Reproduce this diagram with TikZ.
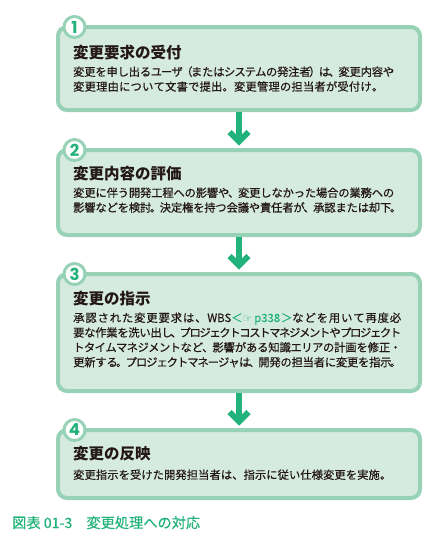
\documentclass[tikz,border=0pt]{standalone}
\usepackage{fontspec}
\setmainfont{Noto Sans CJK JP}
\newfontfamily\bodyfont{Noto Sans CJK JP}[FakeBold=0.5]
\newfontfamily\numfont{Poppins}
\newfontfamily\symfont{DejaVu Sans}
\usetikzlibrary{calc}
\definecolor{boxfill}{HTML}{D6EBDF}
\definecolor{boxline}{HTML}{97D2B7}
\definecolor{accent}{HTML}{22B27B}
\definecolor{ink}{HTML}{231815}
% inter-character glue for justified Japanese lines
\XeTeXinterchartokenstate=1
\newXeTeXintercharclass\jJ
\newXeTeXintercharclass\jK
\newXeTeXintercharclass\jP
\newcount\jcnt
\newcommand\setcls[3]{\jcnt=#1\relax\loop\ifnum\jcnt<#2\relax\XeTeXcharclass\jcnt=#3\relax\advance\jcnt by 1\repeat}
\setcls{"3000}{"3040}{\jP}
\setcls{"3040}{"30A0}{\jJ}
\setcls{"30A0}{"3100}{\jK}
\setcls{"4E00}{"A000}{\jJ}
\setcls{"FF00}{"FF66}{\jP}
\XeTeXinterchartoks\jJ\jJ={\hskip0pt plus 1fil minus 0.3pt}
\XeTeXinterchartoks\jJ\jK={\hskip0pt plus 1fil minus 0.8pt}
\XeTeXinterchartoks\jK\jJ={\hskip0pt plus 1fil minus 0.8pt}
\XeTeXinterchartoks\jK\jK={\hskip0pt plus 1fil minus 1.5pt}
\XeTeXinterchartoks\jP\jJ={\hskip0pt plus 1fil minus 2.5pt}
\XeTeXinterchartoks\jJ\jP={\hskip0pt plus 1fil minus 2.5pt}
\XeTeXinterchartoks\jP\jK={\hskip0pt plus 1fil minus 2.5pt}
\XeTeXinterchartoks\jK\jP={\hskip0pt plus 1fil minus 2.5pt}
\XeTeXinterchartoks\jP\jP={\hskip0pt plus 1fil minus 2.5pt}
\XeTeXinterchartoks 0 \jJ={\hskip0pt plus 1fil minus 0.5pt}
\XeTeXinterchartoks\jJ 0 ={\hskip0pt plus 1fil minus 0.5pt}
\XeTeXinterchartoks\jP 0 ={\hskip0pt plus 1fil minus 0.5pt}
\XeTeXinterchartoks 0 \jP={\hskip0pt plus 1fil minus 0.5pt}
\newcommand\jline[2]{\hbox to #1{#2}}
\newcommand\lines[1]{\vtop{\baselineskip=14.8pt\lineskiplimit=-20pt #1}}
\tikzset{
  box/.style={draw=boxline, line width=4pt, fill=boxfill, rounded corners=9pt, inner sep=0pt},
  numc/.style={circle, draw=boxline, line width=3pt, fill=white, minimum size=21pt, inner sep=0pt,
    font=\numfont\bfseries\fontsize{16.5}{16.5}\selectfont, text=accent},
  ttl/.style={anchor=base west, inner sep=0pt, font=\bfseries\fontsize{15.5}{15.5}\selectfont, text=ink},
  body/.style={anchor=base west, inner sep=0pt, font=\bodyfont\fontsize{11.3}{14.8}\selectfont, text=ink},
  flow/.style={draw=accent, line width=6pt},
  chev/.style={draw=accent, line width=6pt, line join=miter},
  captxt/.style={anchor=base west, inner sep=0pt, font=\bodyfont\fontsize{14.2}{14.2}\selectfont, text=accent},
}
\begin{document}
\begin{tikzpicture}[x=1pt,y=-1pt]
\useasboundingbox (0,0) rectangle (434,546);
% boxes
\node[box, minimum width=362pt, minimum height=83pt] (b1) at (239,68.5) {};
\node[box, minimum width=362pt, minimum height=85pt] (b2) at (239,192.5) {};
\node[box, minimum width=362pt, minimum height=117pt] (b3) at (239,332.5) {};
\node[box, minimum width=362pt, minimum height=68pt] (b4) at (239,464) {};
% numbers
\node[numc] (n1) at ($(b1.north west)+(18.5,2)$) {1};
\node[numc] (n2) at ($(b2.north west)+(18.5,2)$) {2};
\node[numc] (n3) at ($(b3.north west)+(18.5,2)$) {3};
\node[numc] (n4) at ($(b4.north west)+(18.5,2)$) {4};
% titles
\node[ttl] (t1) at (73,58) {変更要求の受付};
\node[ttl] (t2) at (73,179) {変更内容の評価};
\node[ttl] (t3) at (73,304) {変更の指示};
\node[ttl] (t4) at (73,459) {変更の反映};
% bodies
\node[body] (d1) at (73,76) {\lines{%
  \jline{321pt}{変更を申し出るユーザ（またはシステムの発注者）は、変更内容や}%
  \jline{310pt}{変更理由について文書で提出。変更管理の担当者が受付け。}}};
\node[body] (d2) at (73,197) {\lines{%
  \jline{321pt}{変更に伴う開発工程への影響や、変更しなかった場合の業務への}%
  \jline{328pt}{影響などを検討。決定権を持つ会議や責任者が、承認または却下。}}};
\node[body] (d3) at (73,322) {\lines{%
  \jline{328pt}{承認された変更要求は、WBS{\color{accent}＜{\symfont\fontsize{11}{11}\selectfont ☞}\,p338＞}などを用いて再度必}%
  \jline{328pt}{要な作業を洗い出し、プロジェクトコストマネジメントやプロジェクト}%
  \jline{328pt}{トタイムマネジメントなど、影響がある知識エリアの計画を修正・}%
  \jline{328pt}{更新する。プロジェクトマネージャは、開発の担当者に変更を指示。}}};
\node[body] (d4) at (73,479) {\lines{%
  \jline{318pt}{変更指示を受けた開発担当者は、指示に従い仕様変更を実施。}}};
% arrows
\foreach \a/\b in {b1/b2,b2/b3,b3/b4}{
  \coordinate (ap) at ($(\b.north)+(0,-6.5)$);
  \draw[flow] (\a.south) -- (ap);
  \draw[chev] ($(ap)+(-9.5,-9.5)$) -- (ap) -- ($(ap)+(9.5,-9.5)$);
}
% caption
\node[captxt] (c) at (12,528) {図表 01-3　変更処理への対応};
\end{tikzpicture}
\end{document}
